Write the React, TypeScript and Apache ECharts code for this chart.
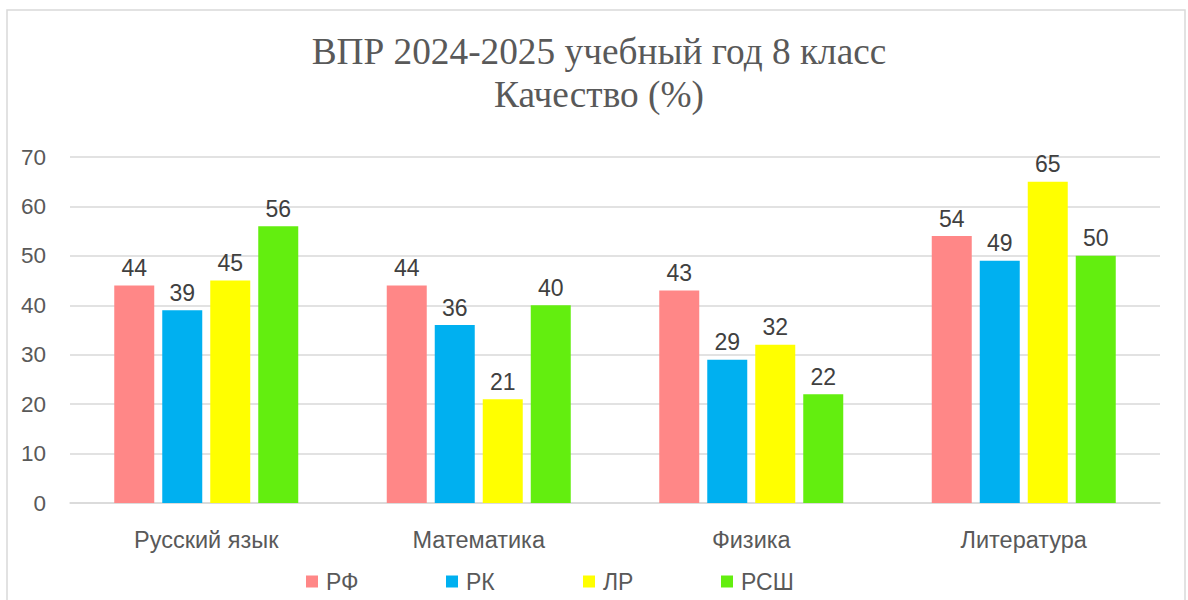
import React, { useEffect, useRef } from "react";
import * as echarts from "echarts";

const categories = ["Русский язык", "Математика", "Физика", "Литература"];
const seriesNames = ["РФ", "РК", "ЛР", "РСШ"];
const valuesRF = [44, 44, 43, 54];
const valuesRK = [39, 36, 29, 49];
const valuesLR = [45, 21, 32, 65];
const valuesRSH = [56, 40, 22, 50];
const colors = ["#FF8787", "#00B0F0", "#FFFF00", "#63EE0F"];
const yTicks = { min: 0, max: 70, interval: 10 };
const titleLines = ["ВПР 2024-2025 учебный год 8 класс", "Качество (%)"];

const SANS = "'Liberation Sans', Arial, sans-serif";
const SERIF = "'Liberation Serif', 'Times New Roman', serif";

const legendLefts = [306, 446, 583, 721];
const titleTops = [33, 76];

export default function App() {
  const ref = useRef<HTMLDivElement>(null);
  useEffect(() => {
    if (!ref.current) return;
    const chart = echarts.init(ref.current, null, { renderer: "svg" });
    const allValues = [valuesRF, valuesRK, valuesLR, valuesRSH];
    chart.setOption({
      animation: false,
      backgroundColor: "#ffffff",
      title: titleLines.map((t, i) => ({
        text: t,
        left: 599,
        textAlign: "center",
        top: titleTops[i],
        padding: 0,
        textStyle: {
          fontFamily: SERIF,
          fontSize: 37.3,
          fontWeight: "normal",
          color: "#595959",
        },
      })),
      graphic: [
        {
          type: "rect",
          shape: { x: 7, y: 10, width: 1178, height: 620 },
          style: { fill: "none", stroke: "#D9D9D9", lineWidth: 1.5 },
          silent: true,
          z: 0,
        },
      ],
      legend: seriesNames.map((name, i) => ({
        data: [name],
        left: legendLefts[i],
        top: 570,
        padding: 0,
        itemWidth: 12,
        itemHeight: 12,
        icon: "rect",
        textStyle: {
          fontFamily: SANS,
          fontSize: 23,
          color: "#595959",
          padding: [0, 0, 0, 3],
        },
      })),
      grid: { left: 70, right: 28, top: 157, bottom: 97 },
      xAxis: {
        type: "category",
        data: categories,
        axisLine: { lineStyle: { color: "#D9D9D9", width: 1.5 } },
        axisTick: { show: false },
        axisLabel: {
          fontFamily: SANS,
          fontSize: 23.5,
          color: "#595959",
          margin: 25,
        },
      },
      yAxis: {
        type: "value",
        min: yTicks.min,
        max: yTicks.max,
        interval: yTicks.interval,
        axisLine: { show: false },
        axisTick: { show: false },
        splitLine: { lineStyle: { color: "#D9D9D9", width: 1.5 } },
        axisLabel: {
          fontFamily: SANS,
          fontSize: 22.5,
          color: "#595959",
          margin: 24,
        },
      },
      series: seriesNames.map((name, i) => ({
        name,
        type: "bar",
        data: allValues[i],
        barWidth: 40,
        barGap: "20%",
        itemStyle: { color: colors[i] },
        label: {
          show: true,
          position: "top",
          distance: 6,
          fontFamily: SANS,
          fontSize: 23,
          color: "#404040",
        },
      })),
    });
    return () => chart.dispose();
  }, []);
  return (
    <div
      ref={ref}
      style={{ position: "absolute", left: 0, top: 0, width: 1188, height: 600 }}
    />
  );
}
